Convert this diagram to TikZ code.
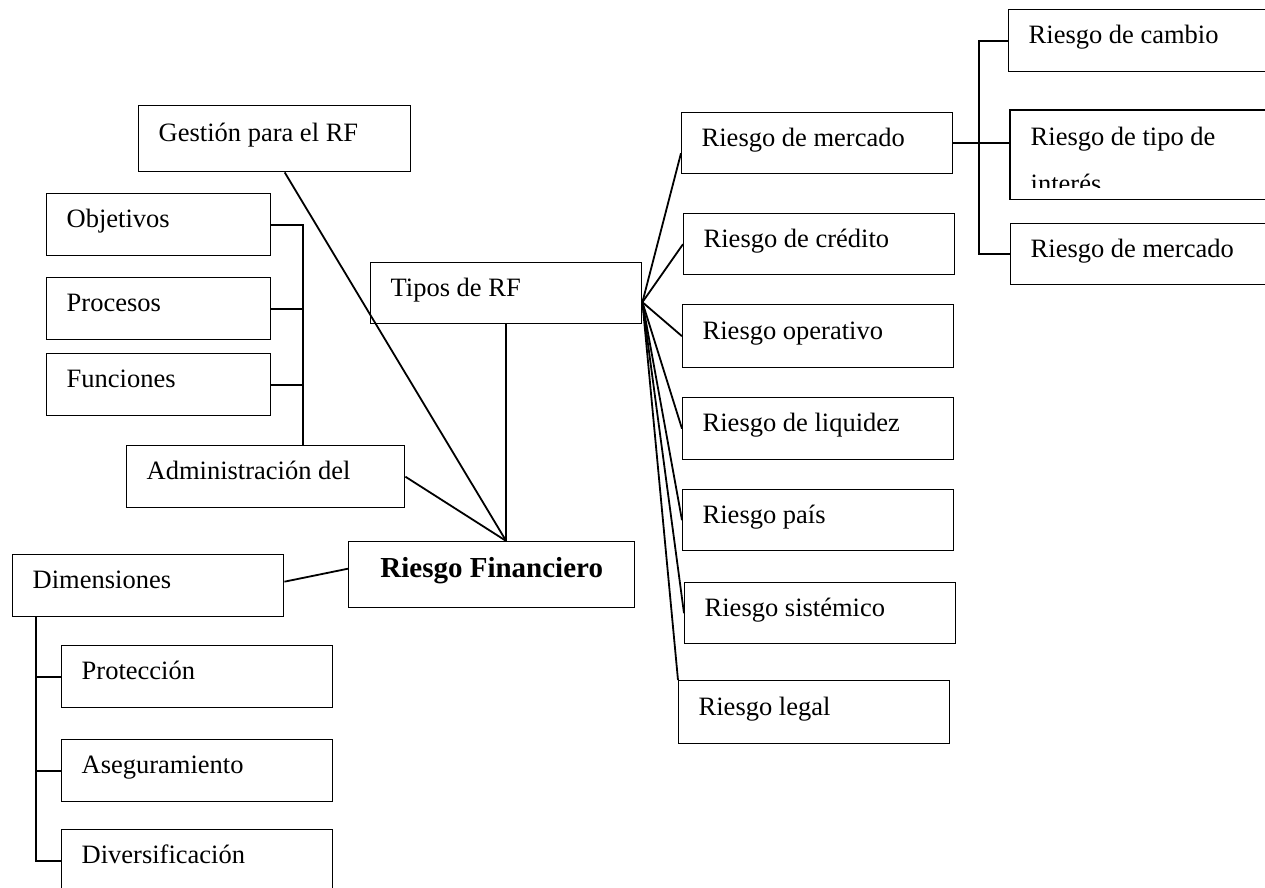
\documentclass[tikz,border=0pt]{standalone}
\usepackage{fontspec}
\setmainfont{Liberation Serif}

\tikzset{
  caja/.style={draw, line width=0.7pt, rectangle, anchor=north west,
    inner xsep=10pt, inner ysep=3pt, text width=115.5pt, minimum height=31pt,
    text height=9pt, text depth=6pt, align=flush left,
    font=\fontsize{13.25}{16}\selectfont},
  enlace/.style={line width=0.9pt}
}

\begin{document}
\begin{tikzpicture}[x=0.5pt,y=-0.5pt]
                \useasboundingbox (0,0) rectangle (1265,888);
                \node[caja, text width=116pt, minimum height=33pt] (gestion) at (138,105) {Gestión para el RF};
                \node[caja, text width=92pt] (objetivos) at (46,193) {Objetivos};
                \node[caja, text width=92pt] (procesos) at (46,277) {Procesos};
                \node[caja, text width=92pt] (funciones) at (46,353) {Funciones};
                \node[caja, text width=119pt] (admin) at (126,445) {Administración del};
                \node[caja, minimum height=30.5pt] (tipos) at (370,262) {Tipos de RF};
                \node[caja, text width=123pt, minimum height=33pt, align=flush center,
                    font=\fontsize{14.5}{17}\selectfont\bfseries] (rf) at (348,541) {Riesgo Financiero};
                \node[caja] (dimensiones) at (12,554) {Dimensiones};
                \node[caja] (proteccion) at (61,645) {Protección};
                \node[caja] (aseguramiento) at (61,739) {Aseguramiento};
                \node[caja] (diversificacion) at (61,829) {Diversificación};
                \node[caja, minimum height=30.5pt] (mercado) at (681,112) {Riesgo de mercado};
                \node[caja, minimum height=30.5pt] (credito) at (683,213) {Riesgo de crédito};
                \node[caja, minimum height=31.5pt] (operativo) at (682,304) {Riesgo operativo};
                \node[caja] (liquidez) at (682,397) {Riesgo de liquidez};
                \node[caja, minimum height=30.5pt] (pais) at (682,489) {Riesgo país};
                \node[caja, minimum height=30.5pt] (sistemico) at (684,582) {Riesgo sistémico};
                \node[caja, minimum height=31.5pt] (legal) at (678,680) {Riesgo legal};
                \node[caja] (cambio) at (1008,9) {Riesgo de cambio};
                \begin{scope}
                    \clip (1000,100) rectangle (1290,188);
                    \node[caja, draw=none, minimum height=44pt, text depth=18pt] (tipo) at (1010,110) {Riesgo de tipo de\\[7.5pt]interés};
                \end{scope}
                \draw[line width=0.7pt] (tipo.north west) rectangle (tipo.south east);
                \node[caja, minimum height=30.5pt] (otromercado) at (1010,223) {Riesgo de mercado};
                \coordinate (cima) at (rf.north -| tipos.south);
                \coordinate (abanico) at ([yshift=-4.5pt]tipos.east);
                \draw[enlace] (tipos.south) -- (cima);
                \draw[enlace] ([xshift=5pt]gestion.south) -- (cima);
                \draw[enlace] (admin.east) -- (cima);
                \draw[enlace] ([yshift=2pt]dimensiones.east) -- ([yshift=3pt]rf.west);
                \draw[enlace] (objetivos.east) -| ([xshift=18.5pt]admin.north);
                \foreach \n in {procesos,funciones}
                    \draw[enlace] (\n.east) -- ++(32,0);
                \draw[enlace] ([xshift=12pt]dimensiones.south west) |- (diversificacion.west);
                \foreach \n in {proteccion,aseguramiento}
                    \draw[enlace] (\n.west) -- ++(-25,0);
                \draw[enlace] (abanico) -- ([yshift=-5pt]mercado.west);
                \foreach \n in {credito,operativo,liquidez,pais,sistemico}
                    \draw[enlace] (abanico) -- (\n.west);
                \draw[enlace] (abanico) -- (legal.north west);
                \draw[enlace] (cambio.west) -- ++(-29,0) |- (otromercado.west);
                \draw[enlace] (mercado.east) -- (mercado.east -| tipo.west);
            \end{tikzpicture}
\end{document}
